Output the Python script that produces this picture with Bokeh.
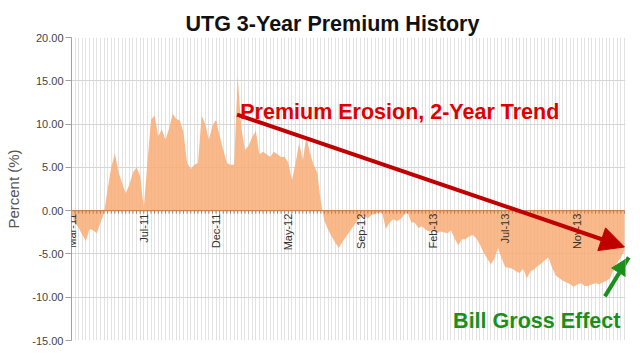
import math
from bokeh.plotting import figure
from bokeh.models import (Range1d, FixedTicker, NumeralTickFormatter, Arrow, NormalHead,
                          Label, ColumnDataSource, Title)
from bokeh.embed import file_html
from bokeh.resources import INLINE

# weekly premium (%) readings, Mar-2011 .. Feb-2014
premium = [
    -0.4, -1.4, -2.0, -2.8, -3.5, -2.1, -2.3, -2.6, -1.4, -0.3,
    2.5, 5.0, 6.6, 4.5, 3.2, 2.0, 3.0, 4.4, 5.0, 4.0,
    0.3, 5.5, 10.5, 11.0, 8.6, 9.4, 8.2, 9.5, 11.2, 10.6,
    10.4, 9.0, 5.5, 4.8, 5.3, 5.5, 11.0, 10.0, 8.2, 9.8,
    10.5, 8.6, 7.0, 5.5, 5.3, 5.3, 15.5, 9.5, 7.0, 7.5,
    8.5, 9.2, 6.5, 6.8, 6.5, 6.2, 6.8, 6.5, 6.2, 6.2,
    5.5, 3.5, 5.5, 7.8, 5.8, 8.6, 6.6, 5.3, 4.4, 1.0,
    -1.2, -2.2, -3.0, -3.7, -4.3, -3.6, -3.0, -2.4, -1.8, -1.2,
    -0.8, -0.6, -0.9, -0.5, -0.4, -0.2, -0.3, -2.1, -1.4, -1.0,
    -1.2, -1.0, -0.5, -0.2, -1.3, -1.4, -2.0, -1.8, -2.2, -2.4,
    -2.2, -2.6, -2.4, -2.5, -2.6, -2.3, -3.2, -4.0, -3.3, -3.3,
    -3.0, -2.8, -3.2, -3.9, -4.8, -5.5, -6.2, -5.6, -4.3, -5.5,
    -6.5, -6.6, -6.7, -7.0, -7.2, -6.7, -7.8, -7.0, -6.8, -6.4,
    -6.1, -5.7, -5.4, -6.6, -7.5, -7.8, -8.1, -8.3, -8.5, -8.8,
    -8.5, -8.4, -8.7, -8.7, -8.5, -8.4, -8.5, -8.3, -8.1, -7.8,
    -6.8, -6.0, -5.4, -4.6,
]
weeks = list(range(len(premium)))

tick_weeks = [0, 20, 40, 60, 80, 100, 120, 140]
tick_labels = ["Mar-11", "Jul-11", "Dec-11", "May-12", "Sep-12", "Feb-13", "Jul-13", "Nov-13"]
y_ticks = [-15, -10, -5, 0, 5, 10, 15, 20]

# annotation anchors (week index, percent)
trend_start = (45.8, 11.1)
trend_end = (153.0, -4.2)
gross_tail = (147.6, -9.9)
gross_tip = (154.2, -5.4)
trend_text_pos = (46.7, 11.4)
gross_text_pos = (105.6, -12.7)

FONT = "Liberation Sans"

p = figure(width=632, height=347, output_backend="svg", toolbar_location=None,
           x_range=Range1d(0, 153.3), y_range=Range1d(-15, 20),
           x_axis_location=None,
           min_border_left=71, min_border_right=7, min_border_top=37, min_border_bottom=7)
p.outline_line_color = None
p.background_fill_color = "white"

p.title = Title(text="UTG 3-Year Premium History", align="left", offset=114,
                text_font=FONT, text_font_size="21.5px", text_font_style="bold",
                text_color="#111111", standoff=4)

# grids
p.xgrid.ticker = FixedTicker(ticks=weeks)
p.xgrid.grid_line_color = "#e2e2e2"
p.xgrid.grid_line_width = 1
p.ygrid.ticker = FixedTicker(ticks=y_ticks)
p.ygrid.grid_line_color = "#d6d6d6"

# y axis
ax = p.yaxis[0]
ax.ticker = FixedTicker(ticks=y_ticks)
ax.formatter = NumeralTickFormatter(format="0.00")
ax.major_label_text_font = FONT
ax.major_label_text_font_size = "11px"
ax.major_label_text_color = "#444444"
ax.axis_line_color = "#a0a0a0"
ax.major_tick_line_color = "#a0a0a0"
ax.major_tick_out = 6
ax.major_tick_in = 0
ax.minor_tick_line_color = None
ax.major_label_standoff = 2
ax.axis_label = "Percent (%)"
ax.axis_label_text_font = FONT
ax.axis_label_text_font_size = "15px"
ax.axis_label_text_font_style = "normal"
ax.axis_label_text_color = "#555555"
ax.axis_label_standoff = 7

src = ColumnDataSource(dict(week=weeks, premium=premium))
p.varea(x="week", y1=0, y2="premium", source=src, fill_color="#f9ad76", fill_alpha=0.85)

# zero baseline with small ticks
p.line(x=[weeks[0], weeks[-1]], y=[0, 0], line_color="#c98550", line_width=1.2)
p.segment(x0=weeks, y0=[0] * len(weeks), x1=weeks, y1=[-0.35] * len(weeks),
          line_color="#b57a55", line_width=1)

# category labels along zero line (annotations, so they are not clipped at the frame edge)
for wk, txt in zip(tick_weeks, tick_labels):
    p.add_layout(Label(x=wk, y=0, text=txt, angle=math.pi / 2, text_align="right",
                       text_baseline="middle", y_offset=-3, text_font=FONT,
                       text_font_size="11px", text_color="#333333"))

# annotations
p.add_layout(Arrow(x_start=trend_start[0], y_start=trend_start[1],
                   x_end=trend_end[0], y_end=trend_end[1],
                   line_color="#c00000", line_width=4,
                   end=NormalHead(size=24, fill_color="#c00000", line_color="#c00000")))
p.add_layout(Arrow(x_start=gross_tail[0], y_start=gross_tail[1],
                   x_end=gross_tip[0], y_end=gross_tip[1],
                   line_color="#1a8f1a", line_width=4,
                   end=NormalHead(size=18, fill_color="#1a8f1a", line_color="#1a8f1a")))
p.add_layout(Label(x=trend_text_pos[0], y=trend_text_pos[1], text="Premium Erosion, 2-Year Trend",
                   text_font=FONT, text_font_size="21.5px", text_font_style="bold",
                   text_color="#e00000", text_baseline="alphabetic"))
p.add_layout(Label(x=gross_text_pos[0], y=gross_text_pos[1], text="Bill Gross Effect",
                   text_font=FONT, text_font_size="21.5px", text_font_style="bold",
                   text_color="#1a8f1a", text_baseline="alphabetic"))

open("out.html", "w").write(file_html(p, INLINE))
